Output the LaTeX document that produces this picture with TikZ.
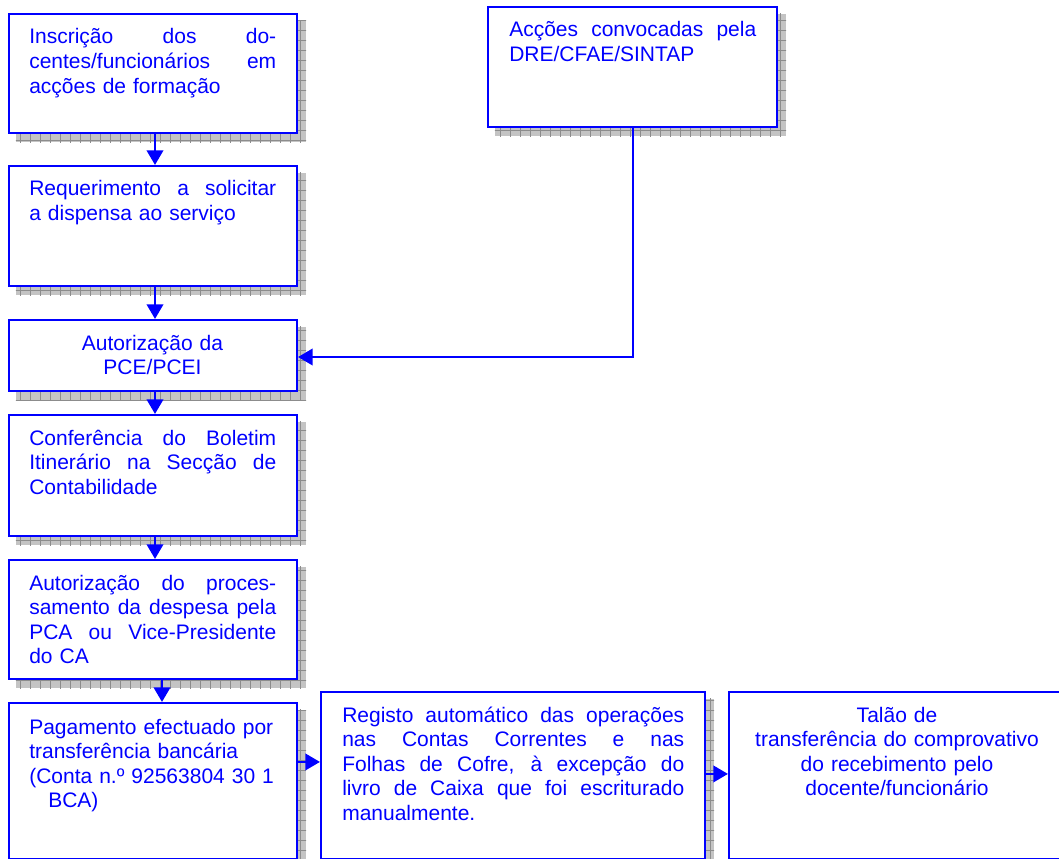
\documentclass[tikz,border=0pt]{standalone}
\usepackage{fontspec}
\setmainfont{Liberation Sans}
\usetikzlibrary{arrows.meta,fit,calc,backgrounds}
\definecolor{flowblue}{RGB}{0,0,255}
\definecolor{shadowgray}{RGB}{196,196,196}
\definecolor{shadowline}{RGB}{140,140,140}

% a justified line: the spaces stretch to fill the given width
\newcommand\jl[2][185.25pt]{\leavevmode\hbox to #1{\spaceskip=0.278em plus 1fil\relax #2}}

% hatched drop shadow behind a box node
\newcommand\boxshadow[1]{%
  \begin{scope}[on background layer]
    \begin{scope}
      \clip ($(#1.south west)+(8,8)$) rectangle ($(#1.north east)+(8,8)$);
      \fill[shadowgray] ($(#1.south west)+(8,8)$) rectangle ($(#1.north east)+(8,8)$);
      \draw[shadowline, line width=0.35pt, step=7.5pt] ($(#1.south west)+(0,16)$) grid ($(#1.north east)+(16,0)$);
    \end{scope}
  \end{scope}}

\tikzset{
  box/.style={draw=flowblue, fill=white, line width=1.6pt, inner sep=0pt},
  txt/.style={inner sep=0pt, text=flowblue, font=\fontsize{15.75pt}{18.4pt}\selectfont},
  jtxt/.style={txt, anchor=base west, text width=185.25pt},
  ctxt/.style={txt, anchor=base, text width=240pt, align=center},
  conn/.style={draw=flowblue, line width=1.5pt, -{Triangle[length=11pt,width=12.5pt]}},
}

\begin{document}
\begin{tikzpicture}[x=0.75pt, y=-0.75pt]
  \useasboundingbox (0,0) rectangle (1059,859);
  \clip (0,0) rectangle (1059,859);

  % boxes of the left column
  \node[box, fit={(9,14) (297,133)}]   (b1) {};
  \node[box, fit={(9,166) (297,286)}]  (b2) {};
  \node[box, fit={(9,320) (297,391)}]  (b3) {};
  \node[box, fit={(9,415) (297,536)}]  (b4) {};
  \node[box, fit={(9,560) (297,679)}]  (b5) {};
  \node[box, fit={(9,703) (297,859.5)}] (b6) {};
  % remaining boxes
  \node[box, fit={(488,7) (777,127)}]   (dre) {};
  \node[box, fit={(321,692) (705,859.5)}] (b7) {};
  \node[box, fit={(729,692) (1068,859.5)}] (b8) {};

  \boxshadow{b1}\boxshadow{b2}\boxshadow{b3}\boxshadow{b4}
  \boxshadow{b5}\boxshadow{b6}\boxshadow{dre}\boxshadow{b7}

  % texts
  \node[jtxt] (t1) at (29,44) {\jl{Inscrição dos do-}\\\jl{centes/funcionários em}\\acções de formação};
  \node[jtxt] (t2) at (29,196) {\jl{Requerimento a solicitar}\\a dispensa ao serviço};
  \node[ctxt] (t3) at (152.5,350) {Autorização da\\PCE/PCEI};
  \node[jtxt] (t4) at (29,445) {\jl{Conferência do Boletim}\\\jl{Itinerário na Secção de}\\Contabilidade};
  \node[jtxt] (t5) at (29,590) {\jl{Autorização do proces-}\\\jl{samento da despesa pela}\\\jl{PCA ou Vice-Presidente}\\do CA};
  \node[jtxt] (t6) at (29,734) {Pagamento efectuado por\\transferência bancária\\(Conta n.º 92563804 30 1\\\hspace*{14.25pt}BCA)};
  \node[jtxt] (td) at (509,37) {\jl{Acções convocadas pela}\\DRE/CFAE/SINTAP};
  \node[jtxt, text width=256.5pt] (t7) at (342,722) {\jl[256.5pt]{Registo automático das operações}\\\jl[256.5pt]{nas Contas Correntes e nas}\\\jl[256.5pt]{Folhas de Cofre, à excepção do}\\\jl[256.5pt]{livro de Caixa que foi escriturado}\\manualmente.};
  \node[ctxt] (t8) at (897,722) {Talão de\\transferência do comprovativo\\do recebimento pelo\\docente/funcionário};

  % connectors
  \draw[conn] ($(b1.south)+(2,0)$) -- ($(b2.north)+(2,0)$);
  \draw[conn] ($(b2.south)+(2,0)$) -- ($(b3.north)+(2,0)$);
  \draw[conn] ($(b3.south)+(2,0)$) -- ($(b4.north)+(2,0)$);
  \draw[conn] ($(b4.south)+(2,0)$) -- ($(b5.north)+(2,0)$);
  \draw[conn] ($(b5.south)+(9,0)$) -- ($(b6.north)+(9,0)$);
  \draw[conn] (dre.south) |- ($(b3.east)+(0,1.5)$);
  \draw[conn] ($(b6.north east)+(0,60)$) -- ($(b7.north west)+(0,71)$);
  \draw[conn] ($(b7.north east)+(0,83)$) -- ($(b8.north west)+(0,83)$);
\end{tikzpicture}
\end{document}
